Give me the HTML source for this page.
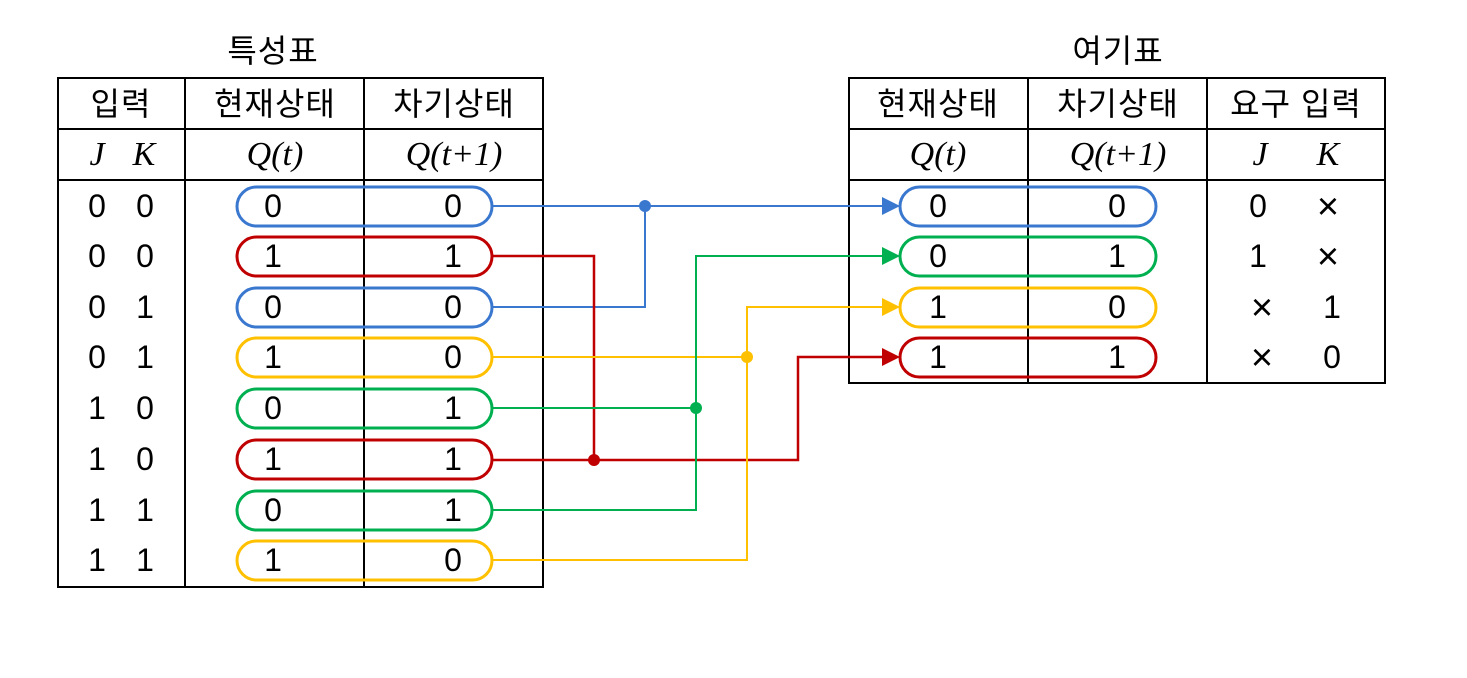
<!DOCTYPE html>
<html><head><meta charset="utf-8"><style>
html,body{margin:0;padding:0;background:#fff;}
svg{display:block;}
.k{font-family:"Liberation Sans","Noto Sans CJK KR","NanumGothic",sans-serif;font-size:32px;letter-spacing:1px;}
.d{font-family:"Liberation Sans",sans-serif;font-size:32px;}
.m{font-family:"Liberation Serif",serif;font-style:italic;font-size:34px;}
.x{font-family:"Liberation Sans",sans-serif;font-size:38px;}
</style></head><body>
<svg width="1467" height="678" viewBox="0 0 1467 678" xmlns="http://www.w3.org/2000/svg">
<rect width="1467" height="678" fill="#fff"/>
<text class="k" x="273" y="62" text-anchor="middle">특성표</text>
<text class="k" x="1118" y="62" text-anchor="middle">여기표</text>

<g stroke="#000" stroke-width="2" fill="none">
<rect x="58" y="78" width="485" height="509"/>
<line x1="58" y1="129" x2="543" y2="129"/>
<line x1="58" y1="180" x2="543" y2="180"/>
<line x1="185" y1="78" x2="185" y2="587"/>
<line x1="364" y1="78" x2="364" y2="587"/>
</g>
<text class="k" x="121" y="115" text-anchor="middle">입력</text>
<text class="k" x="275" y="115" text-anchor="middle">현재상태</text>
<text class="k" x="454" y="115" text-anchor="middle">차기상태</text>
<text class="m" x="97" y="165" text-anchor="middle">J</text>
<text class="m" x="144" y="165" text-anchor="middle">K</text>
<text class="m" x="275" y="165" text-anchor="middle">Q(t)</text>
<text class="m" x="454" y="165" text-anchor="middle">Q(t+1)</text>

<g stroke="#000" stroke-width="2" fill="none">
<rect x="849" y="78" width="536" height="305"/>
<line x1="849" y1="129" x2="1385" y2="129"/>
<line x1="849" y1="180" x2="1385" y2="180"/>
<line x1="1028" y1="78" x2="1028" y2="383"/>
<line x1="1207" y1="78" x2="1207" y2="383"/>
</g>
<text class="k" x="938" y="115" text-anchor="middle">현재상태</text>
<text class="k" x="1118" y="115" text-anchor="middle">차기상태</text>
<text class="k" x="1296" y="115" text-anchor="middle">요구 입력</text>
<text class="m" x="938" y="165" text-anchor="middle">Q(t)</text>
<text class="m" x="1118" y="165" text-anchor="middle">Q(t+1)</text>
<text class="m" x="1260" y="165" text-anchor="middle">J</text>
<text class="m" x="1328" y="165" text-anchor="middle">K</text>

<g fill="none" stroke-width="2">
<path d="M492 206H885 M492 307H645V206" stroke="#3a78d0"/>
<path d="M492 256H594V460 M492 460H798V357H885" stroke="#c00000" stroke-width="2.5"/>
<path d="M492 357H747 M492 560H747V307H885" stroke="#ffc000"/>
<path d="M492 408H696 M492 510H696V256H885" stroke="#00b050"/>
</g>
<circle cx="645" cy="206" r="6" fill="#3a78d0"/>
<circle cx="594" cy="460" r="6" fill="#c00000"/>
<circle cx="747" cy="357" r="6" fill="#ffc000"/>
<circle cx="696" cy="408" r="6" fill="#00b050"/>
<polygon points="882,197 900,206 882,215" fill="#3a78d0"/>
<polygon points="882,247 900,256 882,265" fill="#00b050"/>
<polygon points="882,298 900,307 882,316" fill="#ffc000"/>
<polygon points="882,348 900,357 882,366" fill="#c00000"/>

<g fill="none" stroke-width="3">
<rect x="237" y="187" width="255" height="39" rx="19.5" stroke="#3a78d0"/>
<rect x="237" y="237" width="255" height="39" rx="19.5" stroke="#c00000"/>
<rect x="237" y="288" width="255" height="39" rx="19.5" stroke="#3a78d0"/>
<rect x="237" y="338" width="255" height="39" rx="19.5" stroke="#ffc000"/>
<rect x="237" y="389" width="255" height="39" rx="19.5" stroke="#00b050"/>
<rect x="237" y="440" width="255" height="39" rx="19.5" stroke="#c00000"/>
<rect x="237" y="491" width="255" height="39" rx="19.5" stroke="#00b050"/>
<rect x="237" y="541" width="255" height="39" rx="19.5" stroke="#ffc000"/>
</g>
<g fill="none" stroke-width="3">
<rect x="900" y="187" width="256" height="39" rx="19.5" stroke="#3a78d0"/>
<rect x="900" y="237" width="256" height="39" rx="19.5" stroke="#00b050"/>
<rect x="900" y="288" width="256" height="39" rx="19.5" stroke="#ffc000"/>
<rect x="900" y="338" width="256" height="39" rx="19.5" stroke="#c00000"/>
</g>

<g class="d" text-anchor="middle">
<text x="97" y="217">0</text><text x="145" y="217">0</text><text x="273" y="217">0</text><text x="453" y="217">0</text>
<text x="97" y="267">0</text><text x="145" y="267">0</text><text x="273" y="267">1</text><text x="453" y="267">1</text>
<text x="97" y="318">0</text><text x="145" y="318">1</text><text x="273" y="318">0</text><text x="453" y="318">0</text>
<text x="97" y="368">0</text><text x="145" y="368">1</text><text x="273" y="368">1</text><text x="453" y="368">0</text>
<text x="97" y="419">1</text><text x="145" y="419">0</text><text x="273" y="419">0</text><text x="453" y="419">1</text>
<text x="97" y="470">1</text><text x="145" y="470">0</text><text x="273" y="470">1</text><text x="453" y="470">1</text>
<text x="97" y="521">1</text><text x="145" y="521">1</text><text x="273" y="521">0</text><text x="453" y="521">1</text>
<text x="97" y="571">1</text><text x="145" y="571">1</text><text x="273" y="571">1</text><text x="453" y="571">0</text>
</g>
<g class="d" text-anchor="middle">
<text x="938" y="217">0</text><text x="1117" y="217">0</text><text x="1258" y="217">0</text>
<text x="938" y="267">0</text><text x="1117" y="267">1</text><text x="1258" y="267">1</text>
<text x="938" y="318">1</text><text x="1117" y="318">0</text><text x="1332" y="318">1</text>
<text x="938" y="368">1</text><text x="1117" y="368">1</text><text x="1332" y="368">0</text>
</g>
<g class="x" text-anchor="middle">
<text x="1328" y="219">×</text>
<text x="1328" y="269">×</text>
<text x="1262" y="320">×</text>
<text x="1262" y="370">×</text>
</g>
</svg>
</body></html>
